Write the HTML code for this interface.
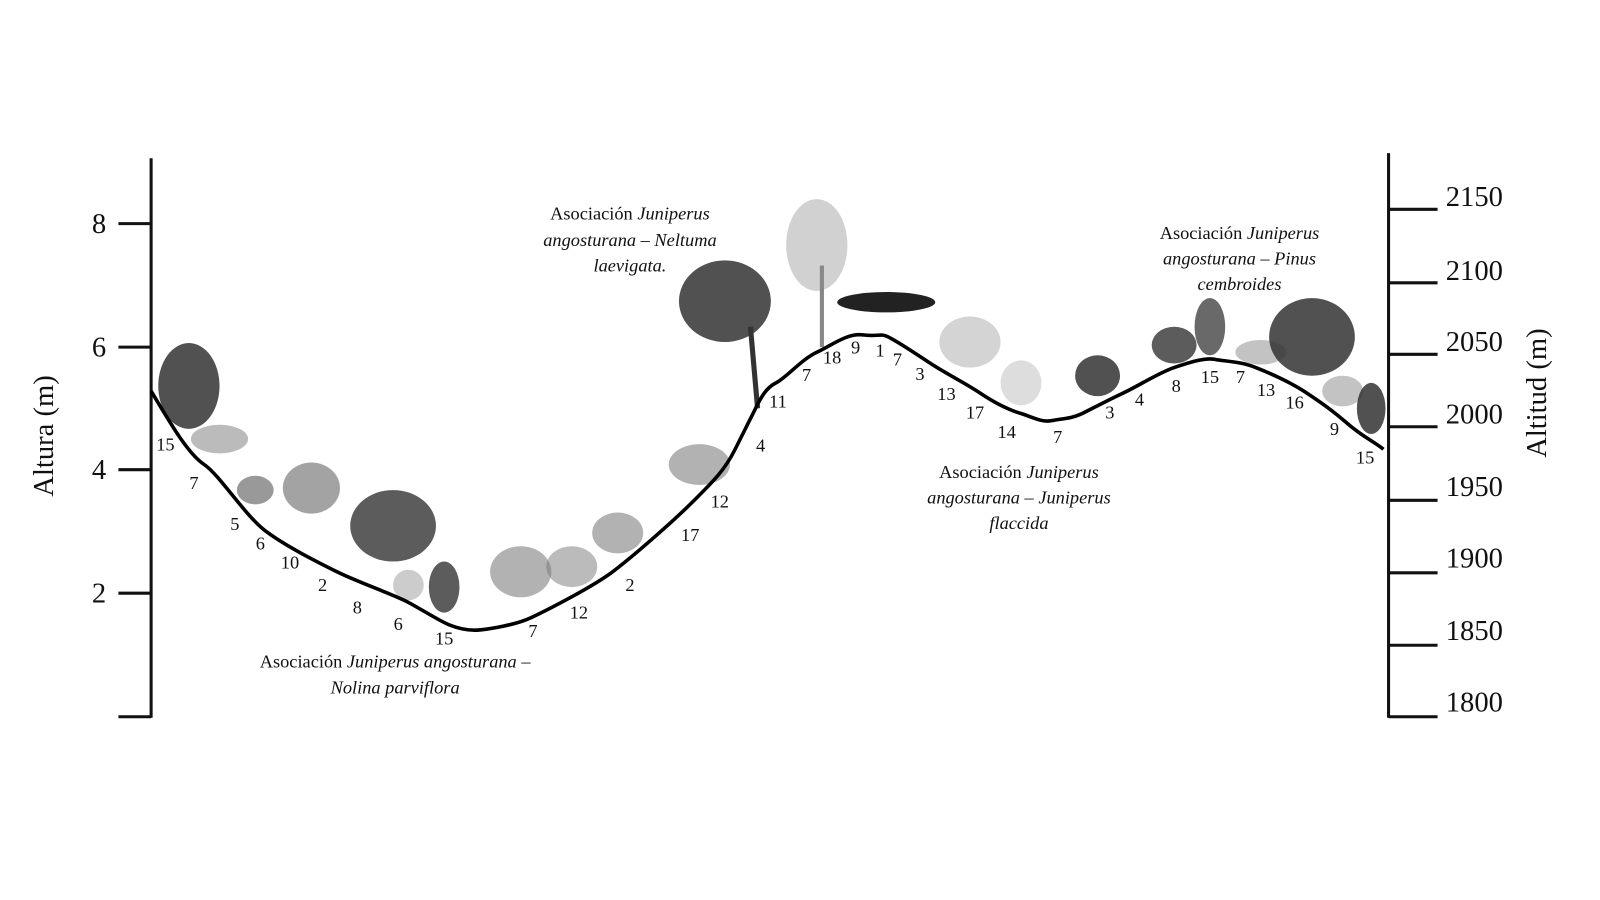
<!DOCTYPE html>
<html><head><meta charset="utf-8"><style>
html,body{margin:0;padding:0;background:#fff;}
svg{display:block;}
text{font-family:"Liberation Serif",serif;fill:#111;}
</style></head><body>
<svg width="1600" height="900" viewBox="0 0 1600 900" xmlns="http://www.w3.org/2000/svg">
<g transform="scale(1.021)">
<g stroke="#111" stroke-width="3" fill="none">
<line x1="148" y1="155" x2="148" y2="703"/>
<line x1="116" y1="219" x2="148" y2="219"/>
<line x1="116" y1="340" x2="148" y2="340"/>
<line x1="116" y1="460" x2="148" y2="460"/>
<line x1="116" y1="581" x2="148" y2="581"/>
<line x1="116" y1="702" x2="148" y2="702"/>
<line x1="1360" y1="150" x2="1360" y2="703"/>
<line x1="1360" y1="205" x2="1408" y2="205"/>
<line x1="1360" y1="277" x2="1408" y2="277"/>
<line x1="1360" y1="347" x2="1408" y2="347"/>
<line x1="1360" y1="418" x2="1408" y2="418"/>
<line x1="1360" y1="490" x2="1408" y2="490"/>
<line x1="1360" y1="561" x2="1408" y2="561"/>
<line x1="1360" y1="632" x2="1408" y2="632"/>
<line x1="1360" y1="702" x2="1408" y2="702"/>
</g>
<g font-size="28">
<text x="97" y="228" text-anchor="middle">8</text>
<text x="97" y="349" text-anchor="middle">6</text>
<text x="97" y="469" text-anchor="middle">4</text>
<text x="97" y="590" text-anchor="middle">2</text>
<text x="1416" y="202">2150</text>
<text x="1416" y="274">2100</text>
<text x="1416" y="344">2050</text>
<text x="1416" y="415">2000</text>
<text x="1416" y="486">1950</text>
<text x="1416" y="556">1900</text>
<text x="1416" y="627">1850</text>
<text x="1416" y="697">1800</text>
</g>
<text font-size="28" transform="translate(52,427) rotate(-90)" text-anchor="middle">Altura (m)</text>
<text font-size="28" transform="translate(1514,385) rotate(-90)" text-anchor="middle">Altitud (m)</text>

<g>
<ellipse cx="185" cy="378" rx="30" ry="42" fill="#333" opacity="0.85"/>
<ellipse cx="215" cy="430" rx="28" ry="14" fill="#777" opacity="0.5"/>
<ellipse cx="250" cy="480" rx="18" ry="14" fill="#555" opacity="0.6"/>
<ellipse cx="305" cy="478" rx="28" ry="25" fill="#666" opacity="0.6"/>
<ellipse cx="385" cy="515" rx="42" ry="35" fill="#333" opacity="0.8"/>
<circle cx="400" cy="573" r="15" fill="#aaa" opacity="0.6"/>
<ellipse cx="435" cy="575" rx="15" ry="25" fill="#333" opacity="0.8"/>
<ellipse cx="510" cy="560" rx="30" ry="25" fill="#666" opacity="0.5"/>
<ellipse cx="560" cy="555" rx="25" ry="20" fill="#777" opacity="0.5"/>
<ellipse cx="605" cy="522" rx="25" ry="20" fill="#666" opacity="0.5"/>
<ellipse cx="685" cy="455" rx="30" ry="20" fill="#666" opacity="0.5"/>
<ellipse cx="710" cy="295" rx="45" ry="40" fill="#333" opacity="0.85"/>
<line x1="735" y1="320" x2="742" y2="400" stroke="#333" stroke-width="5"/>
<ellipse cx="800" cy="240" rx="30" ry="45" fill="#999" opacity="0.45"/>
<line x1="805" y1="260" x2="805" y2="340" stroke="#888" stroke-width="4"/>
<ellipse cx="868" cy="296" rx="48" ry="10" fill="#222"/>
<ellipse cx="950" cy="335" rx="30" ry="25" fill="#aaa" opacity="0.5"/>
<ellipse cx="1000" cy="375" rx="20" ry="22" fill="#bbb" opacity="0.5"/>
<ellipse cx="1075" cy="368" rx="22" ry="20" fill="#333" opacity="0.85"/>
<ellipse cx="1150" cy="338" rx="22" ry="18" fill="#333" opacity="0.8"/>
<ellipse cx="1185" cy="320" rx="15" ry="28" fill="#444" opacity="0.8"/>
<ellipse cx="1235" cy="345" rx="25" ry="12" fill="#888" opacity="0.5"/>
<ellipse cx="1285" cy="330" rx="42" ry="38" fill="#333" opacity="0.85"/>
<ellipse cx="1315" cy="383" rx="20" ry="15" fill="#888" opacity="0.5"/>
<ellipse cx="1343" cy="400" rx="14" ry="25" fill="#333" opacity="0.85"/>
</g>
<path d="M148,383 C170,420 185,445 200,455 S240,505 260,520 S310,550 330,560 S385,582 400,590 S430,608 440,612 S460,618 470,617 S505,612 520,605 S580,575 600,560 S660,510 680,490 S710,460 720,440 S735,410 740,400 S750,380 760,375 S785,352 800,345 S830,326 845,328 S862,326 870,330 S895,345 910,355 S945,375 960,385 S990,402 1000,405 S1020,414 1030,412 S1050,410 1060,405 S1085,392 1100,385 S1135,365 1150,360 S1180,350 1190,352 S1215,354 1230,360 S1265,375 1280,385 S1305,402 1320,415 S1345,432 1355,440" fill="none" stroke="#000" stroke-width="3.5"/>
<g font-size="18" text-anchor="middle">
<text x="162" y="441">15</text><text x="190" y="479">7</text><text x="230" y="519">5</text>
<text x="255" y="538">6</text><text x="284" y="557">10</text><text x="316" y="579">2</text>
<text x="350" y="601">8</text><text x="390" y="617">6</text><text x="435" y="631">15</text>
<text x="522" y="624">7</text><text x="567" y="606">12</text><text x="617" y="579">2</text>
<text x="676" y="530">17</text><text x="705" y="497">12</text><text x="745" y="442">4</text>
<text x="762" y="399">11</text><text x="790" y="373">7</text><text x="815" y="356">18</text>
<text x="838" y="346">9</text><text x="862" y="349">1</text><text x="879" y="358">7</text>
<text x="901" y="372">3</text><text x="927" y="392">13</text><text x="955" y="410">17</text>
<text x="986" y="429">14</text><text x="1036" y="434">7</text><text x="1087" y="410">3</text>
<text x="1116" y="397">4</text><text x="1152" y="384">8</text><text x="1185" y="375">15</text>
<text x="1215" y="375">7</text><text x="1240" y="388">13</text><text x="1268" y="400">16</text>
<text x="1307" y="426">9</text><text x="1337" y="454">15</text>
</g>
<g font-size="18" text-anchor="middle">
<text x="617" y="215">Asociación <tspan font-style="italic">Juniperus</tspan></text>
<text x="617" y="241" font-style="italic">angosturana – Neltuma</text>
<text x="617" y="266" font-style="italic">laevigata.</text>
<text x="1214" y="234">Asociación <tspan font-style="italic">Juniperus</tspan></text>
<text x="1214" y="259" font-style="italic">angosturana – Pinus</text>
<text x="1214" y="284" font-style="italic">cembroides</text>
<text x="998" y="468">Asociación <tspan font-style="italic">Juniperus</tspan></text>
<text x="998" y="493" font-style="italic">angosturana – Juniperus</text>
<text x="998" y="518" font-style="italic">flaccida</text>
<text x="387" y="654">Asociación <tspan font-style="italic">Juniperus angosturana –</tspan></text>
<text x="387" y="679" font-style="italic">Nolina parviflora</text>
</g>
</g>
</svg>
</body></html>
